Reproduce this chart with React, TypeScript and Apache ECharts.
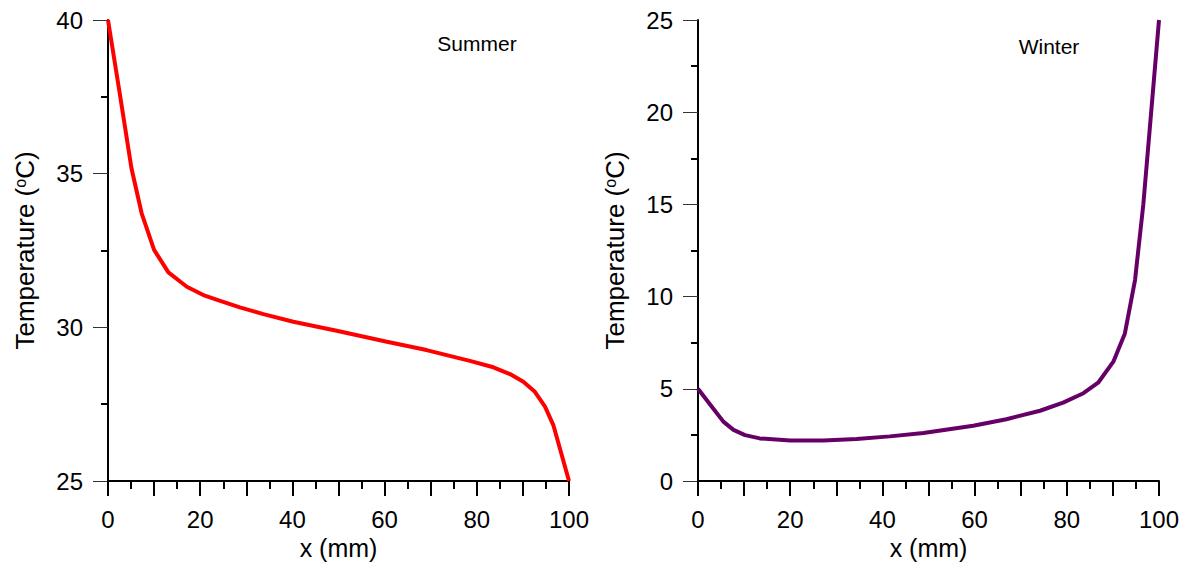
import React, { useEffect, useRef } from "react";
import * as echarts from "echarts";

const summerX = [0, 2.6, 5.1, 7.3, 10, 13.1, 17.1, 21, 24.5, 28.6, 33.7, 40.2, 49.6, 60.5, 69.1, 78.5, 83.6, 87.2, 90.1, 92.6, 94.8, 96.6, 100];
const summerY = [40, 37.56, 35.17, 33.71, 32.52, 31.79, 31.32, 31.03, 30.85, 30.65, 30.43, 30.18, 29.89, 29.53, 29.26, 28.91, 28.7, 28.48, 28.23, 27.9, 27.42, 26.82, 25];

const winterX = [0, 3, 5.5, 7.7, 10.2, 13.4, 20, 27.2, 34.4, 41.6, 48.9, 59.7, 66.9, 74.2, 79.2, 83.6, 86.8, 90.1, 92.6, 94.8, 96.6, 100];
const winterY = [5, 4.03, 3.22, 2.77, 2.49, 2.31, 2.2, 2.2, 2.28, 2.42, 2.6, 3.0, 3.35, 3.81, 4.25, 4.76, 5.33, 6.47, 8.0, 10.9, 15.0, 25];

const panelTitles = ["Summer", "Winter"];
const xName = "x (mm)";
const yName = "Temperature ({sup|o}C)";

const FONT = "'Liberation Sans', Arial, sans-serif";

function makeX(gridIndex: number) {
  return {
    type: "value",
    gridIndex,
    min: 0,
    max: 100,
    interval: 10,
    name: xName,
    nameLocation: "middle",
    nameGap: 54,
    nameTextStyle: { fontSize: 25, color: "#000", fontFamily: FONT },
    axisLine: { show: true, onZero: false, lineStyle: { color: "#000", width: 2 } },
    axisTick: { show: true, length: 15, lineStyle: { color: "#000", width: 2 } },
    minorTick: { show: true, splitNumber: 2, length: 8, lineStyle: { color: "#000", width: 2 } },
    splitLine: { show: false },
    minorSplitLine: { show: false },
    axisLabel: {
      fontSize: 24,
      color: "#000",
      fontFamily: FONT,
      margin: 26,
      formatter: (v: number) => (v % 20 === 0 ? String(v) : ""),
    },
  };
}

function makeY(gridIndex: number, min: number, max: number) {
  return {
    type: "value",
    gridIndex,
    min,
    max,
    interval: 5,
    name: yName,
    nameLocation: "middle",
    nameGap: 70,
    nameTextStyle: {
      fontSize: 26,
      color: "#000",
      fontFamily: FONT,
      rich: { sup: { fontSize: 16, color: "#000", fontFamily: FONT, verticalAlign: "top", lineHeight: 14 } },
    },
    axisLine: { show: true, onZero: false, lineStyle: { color: "#000", width: 2 } },
    axisTick: { show: true, length: 15, lineStyle: { color: "#333", width: 1 } },
    minorTick: { show: true, splitNumber: 2, length: 7, lineStyle: { color: "#000", width: 2 } },
    splitLine: { show: false },
    minorSplitLine: { show: false },
    axisLabel: { fontSize: 24, color: "#000", fontFamily: FONT, margin: 25 },
  };
}

export default function App() {
  const ref = useRef<HTMLDivElement>(null);
  useEffect(() => {
    if (!ref.current) return;
    const chart = echarts.init(ref.current, null, { renderer: "svg" });
    chart.setOption({
      animation: false,
      backgroundColor: "#fff",
      textStyle: { fontFamily: FONT },
      grid: [
        { left: 108, top: 20, width: 461, height: 461 },
        { left: 698, top: 20, width: 461, height: 461 },
      ],
      xAxis: [makeX(0), makeX(1)],
      yAxis: [makeY(0, 25, 40), makeY(1, 0, 25)],
      graphic: [
        {
          type: "text",
          x: 477,
          y: 43,
          style: { text: panelTitles[0], fontSize: 21, fill: "#000", fontFamily: FONT, align: "center", verticalAlign: "middle" },
        },
        {
          type: "text",
          x: 1049,
          y: 46,
          style: { text: panelTitles[1], fontSize: 21, fill: "#000", fontFamily: FONT, align: "center", verticalAlign: "middle" },
        },
      ],
      series: [
        {
          type: "line",
          xAxisIndex: 0,
          yAxisIndex: 0,
          data: summerX.map((x, i) => [x, summerY[i]]),
          showSymbol: false,
          symbol: "none",
          lineStyle: { color: "#ff0000", width: 4 },
          z: 1,
        },
        {
          type: "line",
          xAxisIndex: 1,
          yAxisIndex: 1,
          data: winterX.map((x, i) => [x, winterY[i]]),
          showSymbol: false,
          symbol: "none",
          lineStyle: { color: "#660066", width: 4 },
          z: 1,
        },
      ],
    });
    return () => chart.dispose();
  }, []);
  return (
    <div
      ref={ref}
      style={{ position: "fixed", left: 0, top: 0, width: 1189, height: 566, background: "#fff" }}
    />
  );
}
